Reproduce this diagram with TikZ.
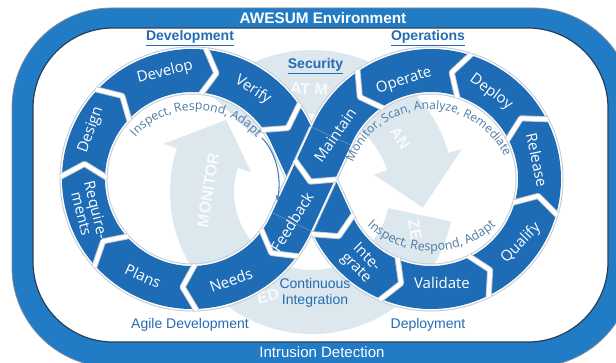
\documentclass[tikz,border=0pt]{standalone}
\usepackage{fontspec}
\setmainfont{Liberation Sans}
\newfontfamily\osans{Open Sans}
\usetikzlibrary{calc,decorations.text,arrows.meta}

\definecolor{ringblue}{RGB}{30,108,182}
\definecolor{frameblue}{RGB}{33,123,197}
\definecolor{frameline}{RGB}{38,62,88}
\definecolor{titleblue}{RGB}{36,108,180}
\definecolor{arctext}{RGB}{78,124,166}
\definecolor{wmark}{RGB}{220,231,238}
\definecolor{rimgray}{RGB}{196,203,210}

\begin{document}
\begin{tikzpicture}[x=1pt,y=-1pt,
  seglabel/.style={text=white,font=\osans\fontsize{15}{15}\selectfont,inner sep=0pt},
  heading/.style={text=titleblue,font=\bfseries\fontsize{14}{16}\selectfont,inner sep=0pt},
  caption/.style={text=titleblue,font=\fontsize{14}{16.5}\selectfont,align=center,inner sep=0pt},
  wmtext/.style={text=white,font=\bfseries\fontsize{16}{16}\selectfont,inner sep=0pt,opacity=0.8},
  sepgray/.style={draw=rimgray,line width=6pt,line join=round},
  sepwhite/.style={draw=white,line width=4.2pt,line join=round},
]
\useasboundingbox (0,0) rectangle (616,363);

% outer frame
\path[fill=frameblue, draw=frameline!60, line width=0.8pt, rounded corners=100pt] (12,8) rectangle (633,367);
\path[fill=white, draw=frameline, line width=1.2pt, rounded corners=80pt] (33,28) rectangle (608,342);

% faded circular arrows in the background
\coordinate (W) at (312,192);
\fill[wmark] ($(W)+(12:142)$) arc[start angle=12,end angle=198,radius=142]
  -- ($(W)+(198:156)$) -- ($(W)+(220:112)$) -- ($(W)+(198:64)$)
  -- ($(W)+(198:78)$) arc[start angle=198,end angle=12,radius=78] -- cycle;
\fill[wmark] ($(W)+(224:142)$) arc[start angle=224,end angle=344,radius=142]
  -- ($(W)+(344:156)$) -- ($(W)+(368:112)$) -- ($(W)+(344:64)$)
  -- ($(W)+(344:78)$) arc[start angle=344,end angle=224,radius=78] -- cycle;
\node[wmtext, rotate=81] (wmMon) at (208,190) {MONITOR};
\node[wmtext, rotate=-3] (wmTop) at (309,89) {AT M};
\node[wmtext, rotate=-55] (wmScan) at (400,138) {AN};
\node[wmtext, rotate=-80] (wmAna) at (415,230) {ZE};
\node[wmtext, rotate=15] (wmBot) at (268,296) {ED};

% figure-eight band
\coordinate (CL) at (192,179);
\coordinate (CR) at (431,179);
\coordinate (T1) at (290.49,133.49);
\coordinate (T2) at (290.49,224.51);
\coordinate (T3) at (332.51,224.51);
\coordinate (T4) at (332.51,133.49);

\foreach \lw/\lc in {48/rimgray,46/white,43/ringblue}
  \draw[line width=\lw pt, draw=\lc] (T2) arc[start angle=24.8,end angle=335.2,radius=108.5]
     -- (T3) arc[start angle=155.2,end angle=-155.2,radius=108.5] -- cycle;

% the Maintain/Feedback stroke passes over the other one
\coordinate (Ba) at ($(T4)!0.03!(T2)$);
\coordinate (Bb) at ($(T4)!0.97!(T2)$);
\foreach \lw/\lc in {48/rimgray,46/white,43/ringblue}
  \draw[line width=\lw pt, draw=\lc] (Ba) -- (Bb);

% chevron gaps between the arrow pieces
\foreach \b in {36,88,138,181,223,276,325}{
  \draw[sepgray] ($(CL)+(\b:131.5)$) -- ($(CL)+({\b+7}:108.5)$) -- ($(CL)+(\b:85.5)$);
  \draw[sepwhite] ($(CL)+(\b:131.5)$) -- ($(CL)+({\b+7}:108.5)$) -- ($(CL)+(\b:85.5)$);
}
\foreach \b in {155.2,113,64,16,-27,-72,-124}{
  \draw[sepgray] ($(CR)+(\b:131.5)$) -- ($(CR)+({\b-7}:108.5)$) -- ($(CR)+(\b:85.5)$);
  \draw[sepwhite] ($(CR)+(\b:131.5)$) -- ($(CR)+({\b-7}:108.5)$) -- ($(CR)+(\b:85.5)$);
}
\coordinate (B15) at ($(T4)!0.399!(T2)$);
\coordinate (A15) at ($(T4)!0.529!(T2)$);
\draw[sepgray] ($(B15)!23pt!90:(T2)$) -- (A15) -- ($(B15)!23pt!-90:(T2)$);
\draw[sepwhite] ($(B15)!23pt!90:(T2)$) -- (A15) -- ($(B15)!23pt!-90:(T2)$);

% arrow labels
\node[seglabel, rotate=14] (lDevelop) at (165,72) {Develop};
\node[seglabel, rotate=-33] (lVerify) at (253,90) {Verify};
\node[seglabel, rotate=70] (lDesign) at (91,130) {Design};
\node[seglabel, rotate=-76, align=center] (lReq) at (89,212) {Require-\\ments};
\node[seglabel, rotate=-24] (lPlans) at (143,276) {Plans};
\node[seglabel, rotate=20] (lNeeds) at (231,280) {Needs};
\node[seglabel, rotate=58] (lFeedback) at (292,222) {Feedback};
\node[seglabel, rotate=55] (lMaintain) at (335,135) {Maintain};
\node[seglabel, rotate=18] (lOperate) at (404,81) {Operate};
\node[seglabel, rotate=-36] (lDeploy) at (491,92) {Deploy};
\node[seglabel, rotate=-78] (lRelease) at (537,160) {Release};
\node[seglabel, rotate=46] (lQualify) at (521,243) {Qualify};
\node[seglabel] (lValidate) at (442,283) {Validate};
\node[seglabel, rotate=-45, align=center] (lIntegrate) at (361,263) {Inte-\\grate};

% curved texts inside the loops
\path[decorate, decoration={text along path, text align=center, text color=arctext,
   text={|\osans\fontsize{12.2}{14}\selectfont|Inspect, Respond, Adapt}}]
   ($(196,191)+(200:81)$) arc[start angle=200,end angle=340,radius=81];
\path[decorate, decoration={text along path, text align=center, text color=arctext,
   text={|\osans\fontsize{12}{14}\selectfont|Monitor, Scan, Analyze, Remediate}}]
   ($(430,192)+(190:82.5)$) arc[start angle=190,end angle=346,radius=82.5];
\path[decorate, decoration={text along path, text align=center, text color=arctext,
   text={|\osans\fontsize{12.6}{14}\selectfont|Inspect, Respond, Adapt}}]
   ($(431.5,156)+(165:95)$) arc[start angle=165,end angle=15,radius=95];

% small feedback arrow
\coordinate (fbStart) at (262,138);
\coordinate (fbEnd) at (277,201);
\draw[-{Stealth[length=6pt,width=5pt]}, draw=ringblue!85, line width=1.1pt]
  (fbStart) .. controls (276,152) and (282,178) .. (fbEnd);

% titles and captions
\node[text=white, font=\bfseries\fontsize{15.3}{17}\selectfont, inner sep=0pt] (envTitle) at (323,18) {AWESUM Environment};
\node[text=white, font=\fontsize{15}{17}\selectfont, inner sep=0pt] (idsTitle) at (322,352) {Intrusion Detection};
\node[heading] (hDev) at (190,38) {\underline{Development}};
\node[heading] (hOps) at (428,38) {\underline{Operations}};
\node[heading] (hSec) at (315.5,66) {\underline{Security}};
\node[caption] (cAgile) at (190,325) {Agile Development};
\node[caption] (cDeploy) at (428,325) {Deployment};
\node[caption] (cCI) at (315,293) {Continuous\\Integration};
\end{tikzpicture}
\end{document}
